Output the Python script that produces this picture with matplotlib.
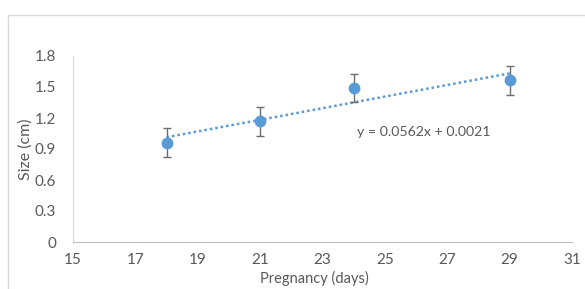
import numpy as np
from matplotlib import pyplot as plt
from matplotlib.patches import Rectangle

# data
days = [18, 21, 24, 29]
size_cm = [0.96, 1.17, 1.49, 1.565]
size_err = [0.14, 0.14, 0.14, 0.14]
trend_coef = [0.0562, 0.0021]   # slope, intercept as printed on the chart
x_ticks = [15, 17, 19, 21, 23, 25, 27, 29, 31]
y_ticks = [0, 0.3, 0.6, 0.9, 1.2, 1.5, 1.8]
y_ticklabels = ["0", "0.3", "0.6", "0.9", "1.2", "1.5", "1.8"]

blue = "#5b9bd5"
txt = "#595959"
plt.rcParams['font.family'] = ['Lato', 'DejaVu Sans']

fig = plt.figure(figsize=(5.85, 2.89), dpi=100)
# chart border like in the spreadsheet
fig.patches.append(Rectangle((8/585, -0.1), 1.2, 1.1 - 15/289, transform=fig.transFigure,
                             fill=False, edgecolor="#d9d9d9", linewidth=1.0))
ax = fig.add_axes([73/585, 1 - 242/289, (572 - 73)/585, (242 - 56)/289])

# trendline over the data range
tx = np.array([min(days), max(days)])
ax.plot(tx, np.polyval(trend_coef, tx), linestyle=(0, (1, 1.2)), color=blue, linewidth=1.8, zorder=2)

ax.errorbar(days, size_cm, yerr=size_err, fmt='o', color=blue, markersize=7.5,
            ecolor="#6d6d6d", elinewidth=1.0, capsize=3, capthick=1.0, zorder=3)

ax.text(24.1, 1.065, "y = %.4fx + %.4f" % (trend_coef[0], trend_coef[1]),
        fontsize=10.2, color=txt, va='center', ha='left')

ax.set_xlim(15, 31)
ax.set_ylim(0, 1.8)
ax.set_xticks(x_ticks)
ax.set_yticks(y_ticks)
ax.set_yticklabels(y_ticklabels)
ax.tick_params(length=0, labelsize=11, colors=txt)
ax.tick_params(axis='y', pad=12)
ax.tick_params(axis='x', pad=8)
for s in ["top", "right"]:
    ax.spines[s].set_visible(False)
ax.spines["left"].set_color("#d9d9d9")
ax.spines["bottom"].set_color("#bfbfbf")
ax.set_xlabel("Pregnancy (days)", fontsize=10.5, color=txt)
ax.xaxis.set_label_coords((314 - 73) / 499, -0.155)
ax.set_ylabel("Size (cm)", fontsize=11.5, color=txt)
ax.yaxis.set_label_coords(-0.08, 0.5)

fig.savefig("out.png", dpi=100)
